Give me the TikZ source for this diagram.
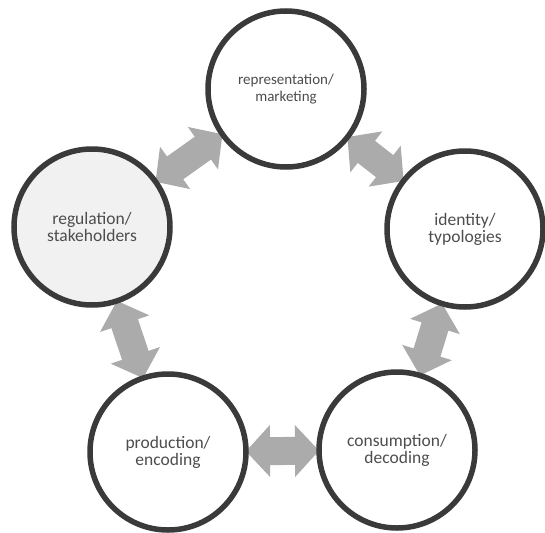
\documentclass[tikz,border=0pt]{standalone}
\usepackage{fontspec}
\setmainfont{Carlito}
\usetikzlibrary{calc,backgrounds}

\definecolor{ring}{HTML}{3A3A3A}
\definecolor{labelgray}{HTML}{4D4D4D}
\definecolor{arrowgray}{HTML}{ABABAB}
\definecolor{softfill}{HTML}{F1F1F1}

\tikzset{
  stage/.style={circle, draw=ring, line width=5.5pt, minimum size=156pt,
    inner sep=0pt, fill=white, text=labelgray, align=center,
    font=\fontsize{17.5}{17}\selectfont},
  smalltext/.style={font=\fontsize{15}{17}\selectfont},
  twowayfill/.style={fill=arrowgray},
}

% Broad two-headed block arrow filling the gap between two round stages
\newcommand\twoway[2]{%
  \fill[twowayfill] let \p1=($(#2)-(#1)$), \n1={atan2(\y1,\x1)}, \n2={veclen(\x1,\y1)} in
    ($(#1)+(\n1:78pt)$)
    -- ($(#1)+(\n1:102pt)+({\n1+90}:26pt)$)
    -- ($(#1)+(\n1:102pt)+({\n1+90}:14pt)$)
    -- ($(#1)+(\n1:{\n2-102pt})+({\n1+90}:14pt)$)
    -- ($(#1)+(\n1:{\n2-102pt})+({\n1+90}:26pt)$)
    -- ($(#1)+(\n1:{\n2-78pt})$)
    -- ($(#1)+(\n1:{\n2-102pt})+({\n1-90}:26pt)$)
    -- ($(#1)+(\n1:{\n2-102pt})+({\n1-90}:14pt)$)
    -- ($(#1)+(\n1:102pt)+({\n1-90}:14pt)$)
    -- ($(#1)+(\n1:102pt)+({\n1-90}:26pt)$)
    -- cycle;
}

\begin{document}
\begin{tikzpicture}[x=1pt, y=-1pt]
  \useasboundingbox (0,0) rectangle (545,532);

  % the five stages of the cycle
  \node[stage, smalltext] (repr) at (286,89) {representation/\\marketing};
  \node[stage] (ident) at (465,229) {identity/\\typologies};
  \node[stage] (cons)  at (397,450) {consumption/\\decoding};
  \node[stage] (prod)  at (168,452) {production/\\encoding};
  \node[stage, fill=softfill] (regu) at (92,227) {regulation/\\stakeholders};

  % paper, then the two-way links between neighbouring stages
  \begin{pgfonlayer}{background}
    \fill[white] (0,0) rectangle (545,532);
    \twoway{regu}{repr}
    \twoway{repr}{ident}
    \twoway{ident}{cons}
    \twoway{prod}{cons}
    \twoway{regu}{prod}
  \end{pgfonlayer}
\end{tikzpicture}
\end{document}
